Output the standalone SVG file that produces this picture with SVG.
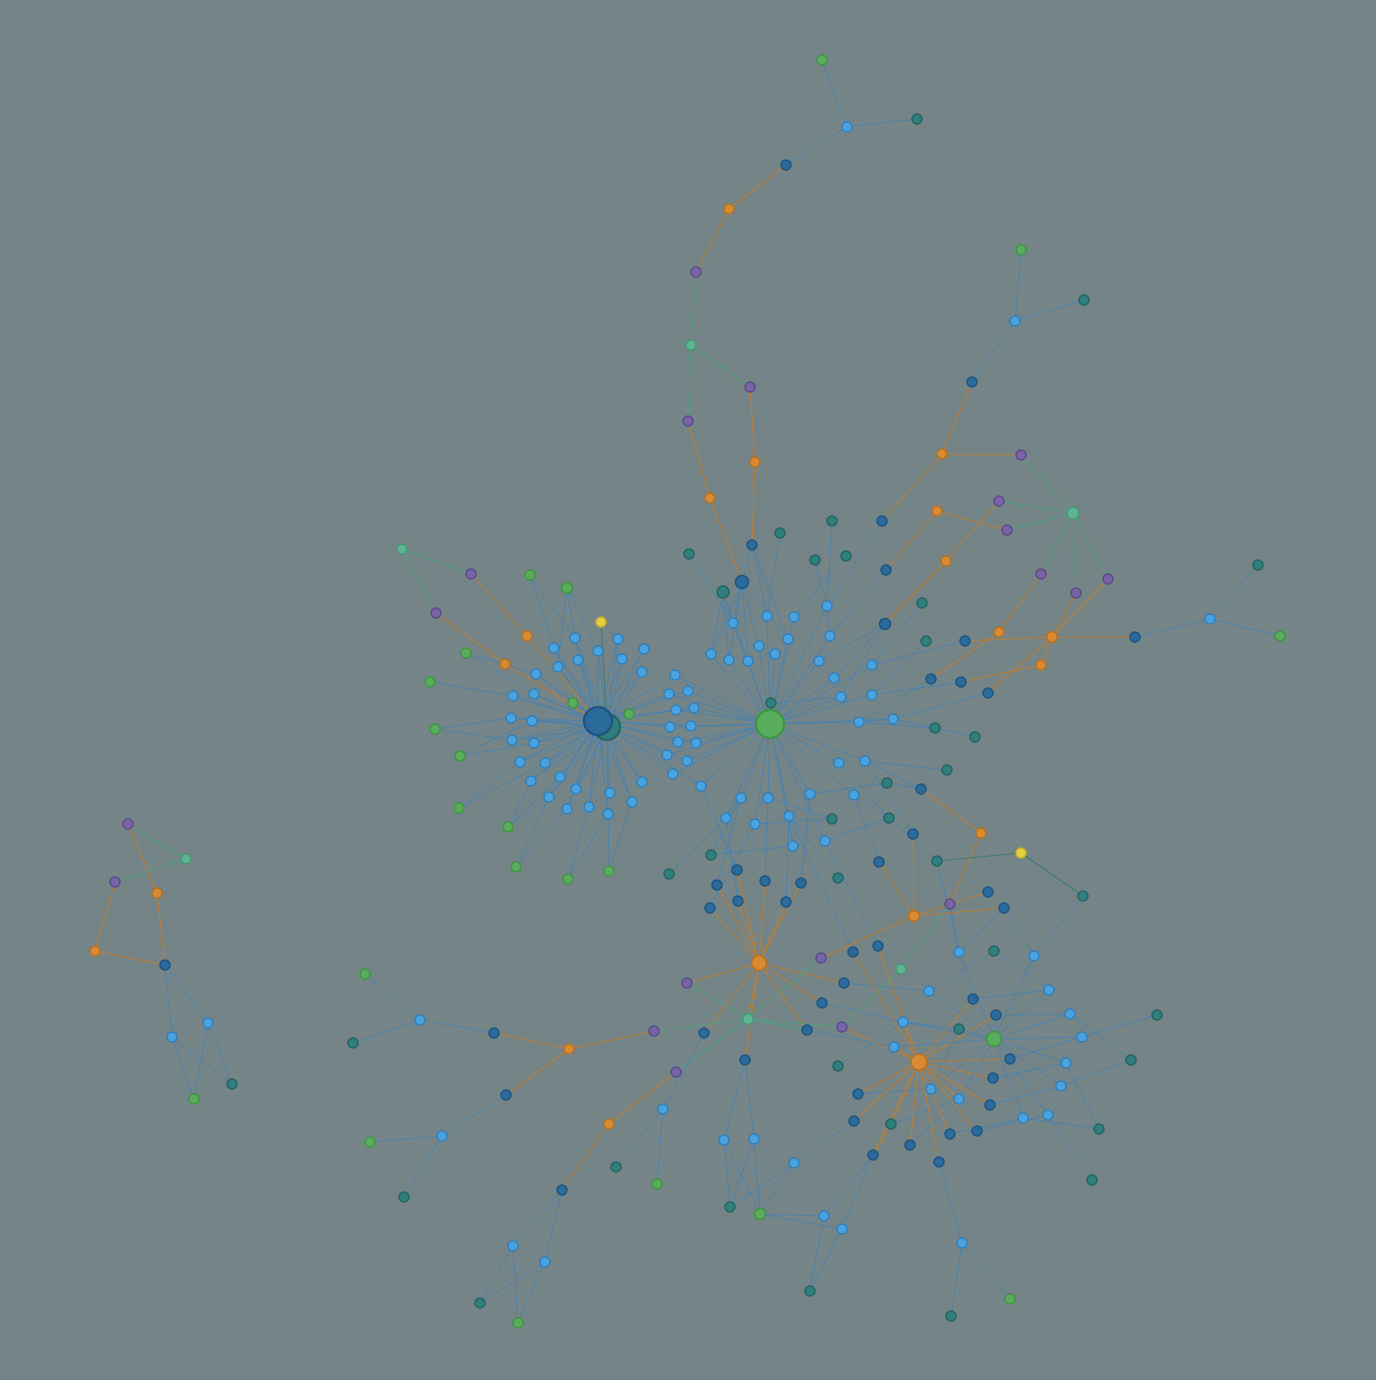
<svg xmlns="http://www.w3.org/2000/svg" width="1376" height="1380" viewBox="0 0 1376 1380">
<style>
.b{stroke:#3d80bb;stroke-width:1;opacity:.7}
.o{stroke:#c07d30;stroke-width:1.1;opacity:.9}
.g{stroke:#4ea37f;stroke-width:1.1;opacity:.9}
.t{stroke:#3a7a6c;stroke-width:1.1;opacity:.9}
.lb{fill:#4aa3df;stroke:#2f80bd;stroke-width:1.5}
.db{fill:#2a6b9c;stroke:#1d5480;stroke-width:1.5}
.tl{fill:#2f7f7e;stroke:#236361;stroke-width:1.5}
.gr{fill:#5aad5c;stroke:#3e9640;stroke-width:1.5}
.or{fill:#d98b33;stroke:#b7701f;stroke-width:1.5}
.pu{fill:#7863a6;stroke:#5a4a8a;stroke-width:1.5}
.mi{fill:#5fb592;stroke:#449a78;stroke-width:1.5}
.ye{fill:#e6cf3c;stroke:#c8b02a;stroke-width:1.5}
.hub{stroke-width:2.2}
</style>
<rect width="1376" height="1380" fill="#758587"/>
<g id="connectors">
<line class="b" x1="598" y1="721" x2="575" y2="638"/><line class="b" x1="598" y1="721" x2="618" y2="639"/><line class="b" x1="598" y1="721" x2="554" y2="648"/><line class="b" x1="598" y1="721" x2="644" y2="649"/><line class="b" x1="598" y1="721" x2="598" y2="651"/><line class="b" x1="598" y1="721" x2="578" y2="660"/><line class="b" x1="598" y1="721" x2="622" y2="659"/><line class="b" x1="598" y1="721" x2="558" y2="667"/><line class="b" x1="598" y1="721" x2="642" y2="672"/><line class="b" x1="598" y1="721" x2="536" y2="674"/><line class="b" x1="598" y1="721" x2="513" y2="696"/><line class="b" x1="598" y1="721" x2="534" y2="694"/><line class="b" x1="598" y1="721" x2="511" y2="718"/><line class="b" x1="598" y1="721" x2="532" y2="721"/><line class="b" x1="598" y1="721" x2="512" y2="740"/><line class="b" x1="598" y1="721" x2="534" y2="743"/><line class="b" x1="598" y1="721" x2="520" y2="762"/><line class="b" x1="598" y1="721" x2="545" y2="763"/><line class="b" x1="598" y1="721" x2="531" y2="781"/><line class="b" x1="598" y1="721" x2="560" y2="777"/><line class="b" x1="598" y1="721" x2="549" y2="797"/><line class="b" x1="598" y1="721" x2="576" y2="789"/><line class="b" x1="598" y1="721" x2="567" y2="809"/><line class="b" x1="598" y1="721" x2="589" y2="807"/><line class="b" x1="598" y1="721" x2="610" y2="793"/><line class="b" x1="598" y1="721" x2="608" y2="814"/><line class="b" x1="598" y1="721" x2="632" y2="802"/><line class="b" x1="598" y1="721" x2="642" y2="782"/><line class="b" x1="598" y1="721" x2="573" y2="703"/><line class="b" x1="598" y1="721" x2="629" y2="714"/>
<line class="b" x1="607" y1="727" x2="575" y2="638"/><line class="b" x1="607" y1="727" x2="618" y2="639"/><line class="b" x1="607" y1="727" x2="554" y2="648"/><line class="b" x1="607" y1="727" x2="644" y2="649"/><line class="b" x1="607" y1="727" x2="598" y2="651"/><line class="b" x1="607" y1="727" x2="578" y2="660"/><line class="b" x1="607" y1="727" x2="622" y2="659"/><line class="b" x1="607" y1="727" x2="558" y2="667"/><line class="b" x1="607" y1="727" x2="642" y2="672"/><line class="b" x1="607" y1="727" x2="536" y2="674"/><line class="b" x1="607" y1="727" x2="513" y2="696"/><line class="b" x1="607" y1="727" x2="534" y2="694"/><line class="b" x1="607" y1="727" x2="511" y2="718"/><line class="b" x1="607" y1="727" x2="532" y2="721"/><line class="b" x1="607" y1="727" x2="512" y2="740"/><line class="b" x1="607" y1="727" x2="534" y2="743"/><line class="b" x1="607" y1="727" x2="520" y2="762"/><line class="b" x1="607" y1="727" x2="545" y2="763"/><line class="b" x1="607" y1="727" x2="531" y2="781"/><line class="b" x1="607" y1="727" x2="560" y2="777"/><line class="b" x1="607" y1="727" x2="549" y2="797"/><line class="b" x1="607" y1="727" x2="576" y2="789"/><line class="b" x1="607" y1="727" x2="567" y2="809"/><line class="b" x1="607" y1="727" x2="589" y2="807"/><line class="b" x1="607" y1="727" x2="610" y2="793"/><line class="b" x1="607" y1="727" x2="608" y2="814"/><line class="b" x1="607" y1="727" x2="632" y2="802"/><line class="b" x1="607" y1="727" x2="642" y2="782"/>
<line class="b" x1="598" y1="721" x2="675" y2="675"/><line class="b" x1="598" y1="721" x2="669" y2="694"/><line class="b" x1="598" y1="721" x2="688" y2="691"/><line class="b" x1="598" y1="721" x2="676" y2="710"/><line class="b" x1="598" y1="721" x2="694" y2="708"/><line class="b" x1="598" y1="721" x2="670" y2="727"/><line class="b" x1="598" y1="721" x2="691" y2="726"/><line class="b" x1="598" y1="721" x2="678" y2="742"/><line class="b" x1="598" y1="721" x2="696" y2="743"/><line class="b" x1="598" y1="721" x2="667" y2="755"/><line class="b" x1="598" y1="721" x2="687" y2="761"/><line class="b" x1="598" y1="721" x2="673" y2="774"/><line class="b" x1="598" y1="721" x2="701" y2="786"/>
<line class="b" x1="770" y1="724" x2="675" y2="675"/><line class="b" x1="770" y1="724" x2="669" y2="694"/><line class="b" x1="770" y1="724" x2="688" y2="691"/><line class="b" x1="770" y1="724" x2="676" y2="710"/><line class="b" x1="770" y1="724" x2="694" y2="708"/><line class="b" x1="770" y1="724" x2="670" y2="727"/><line class="b" x1="770" y1="724" x2="691" y2="726"/><line class="b" x1="770" y1="724" x2="678" y2="742"/><line class="b" x1="770" y1="724" x2="696" y2="743"/><line class="b" x1="770" y1="724" x2="667" y2="755"/><line class="b" x1="770" y1="724" x2="687" y2="761"/><line class="b" x1="770" y1="724" x2="673" y2="774"/><line class="b" x1="770" y1="724" x2="701" y2="786"/>
<line class="o" x1="598" y1="721" x2="527" y2="636"/><line class="o" x1="598" y1="721" x2="505" y2="664"/>
<line class="t" x1="607" y1="727" x2="601" y2="622"/>
<line class="b" x1="530" y1="575" x2="554" y2="648"/><line class="b" x1="530" y1="575" x2="575" y2="638"/>
<line class="b" x1="567" y1="588" x2="575" y2="638"/><line class="b" x1="567" y1="588" x2="558" y2="667"/><line class="b" x1="567" y1="588" x2="598" y2="651"/><line class="b" x1="567" y1="588" x2="601" y2="622"/>
<line class="b" x1="601" y1="622" x2="618" y2="639"/>
<line class="g" x1="402" y1="549" x2="471" y2="574"/><line class="g" x1="402" y1="549" x2="436" y2="613"/>
<line class="o" x1="471" y1="574" x2="527" y2="636"/><line class="o" x1="436" y1="613" x2="505" y2="664"/>
<line class="b" x1="466" y1="653" x2="536" y2="674"/><line class="b" x1="466" y1="653" x2="534" y2="694"/>
<line class="b" x1="430" y1="682" x2="513" y2="696"/>
<line class="b" x1="435" y1="729" x2="511" y2="718"/><line class="b" x1="435" y1="729" x2="512" y2="740"/>
<line class="b" x1="460" y1="756" x2="532" y2="721"/><line class="b" x1="460" y1="756" x2="534" y2="743"/>
<line class="b" x1="459" y1="808" x2="520" y2="762"/><line class="b" x1="459" y1="808" x2="545" y2="763"/>
<line class="b" x1="508" y1="827" x2="531" y2="781"/><line class="b" x1="508" y1="827" x2="560" y2="777"/><line class="b" x1="508" y1="827" x2="549" y2="797"/>
<line class="b" x1="516" y1="867" x2="549" y2="797"/><line class="b" x1="516" y1="867" x2="567" y2="809"/>
<line class="b" x1="568" y1="879" x2="589" y2="807"/><line class="b" x1="568" y1="879" x2="608" y2="814"/>
<line class="b" x1="609" y1="871" x2="608" y2="814"/><line class="b" x1="609" y1="871" x2="632" y2="802"/>
<line class="b" x1="770" y1="724" x2="771" y2="703"/><line class="b" x1="770" y1="724" x2="827" y2="606"/><line class="b" x1="770" y1="724" x2="733" y2="623"/><line class="b" x1="770" y1="724" x2="767" y2="616"/><line class="b" x1="770" y1="724" x2="794" y2="617"/><line class="b" x1="770" y1="724" x2="788" y2="639"/><line class="b" x1="770" y1="724" x2="830" y2="636"/><line class="b" x1="770" y1="724" x2="759" y2="646"/><line class="b" x1="770" y1="724" x2="711" y2="654"/><line class="b" x1="770" y1="724" x2="729" y2="660"/><line class="b" x1="770" y1="724" x2="748" y2="661"/><line class="b" x1="770" y1="724" x2="775" y2="654"/><line class="b" x1="770" y1="724" x2="819" y2="661"/><line class="b" x1="770" y1="724" x2="872" y2="665"/><line class="b" x1="770" y1="724" x2="834" y2="678"/><line class="b" x1="770" y1="724" x2="841" y2="697"/><line class="b" x1="770" y1="724" x2="872" y2="695"/><line class="b" x1="770" y1="724" x2="859" y2="722"/><line class="b" x1="770" y1="724" x2="893" y2="719"/><line class="b" x1="770" y1="724" x2="839" y2="763"/><line class="b" x1="770" y1="724" x2="865" y2="761"/><line class="b" x1="770" y1="724" x2="741" y2="798"/><line class="b" x1="770" y1="724" x2="768" y2="798"/><line class="b" x1="770" y1="724" x2="810" y2="794"/><line class="b" x1="770" y1="724" x2="854" y2="795"/><line class="b" x1="770" y1="724" x2="726" y2="818"/><line class="b" x1="770" y1="724" x2="755" y2="824"/><line class="b" x1="770" y1="724" x2="789" y2="816"/><line class="b" x1="770" y1="724" x2="793" y2="846"/><line class="b" x1="770" y1="724" x2="825" y2="841"/>
<line class="b" x1="771" y1="703" x2="841" y2="697"/>
<line class="o" x1="752" y1="545" x2="755" y2="462"/><line class="b" x1="752" y1="545" x2="742" y2="582"/><line class="b" x1="752" y1="545" x2="767" y2="616"/><line class="b" x1="752" y1="545" x2="788" y2="639"/>
<line class="b" x1="780" y1="533" x2="767" y2="616"/><line class="b" x1="689" y1="554" x2="733" y2="623"/>
<line class="o" x1="742" y1="582" x2="710" y2="498"/><line class="b" x1="742" y1="582" x2="733" y2="623"/><line class="b" x1="742" y1="582" x2="711" y2="654"/><line class="b" x1="742" y1="582" x2="729" y2="660"/><line class="b" x1="742" y1="582" x2="748" y2="661"/><line class="b" x1="742" y1="582" x2="759" y2="646"/><line class="b" x1="742" y1="582" x2="788" y2="639"/>
<line class="b" x1="723" y1="592" x2="711" y2="654"/><line class="b" x1="723" y1="592" x2="729" y2="660"/><line class="b" x1="723" y1="592" x2="748" y2="661"/><line class="b" x1="723" y1="592" x2="733" y2="623"/>
<line class="b" x1="832" y1="521" x2="827" y2="606"/><line class="b" x1="815" y1="560" x2="827" y2="606"/><line class="b" x1="846" y1="556" x2="794" y2="617"/><line class="b" x1="827" y1="606" x2="830" y2="636"/>
<line class="o" x1="882" y1="521" x2="942" y2="454"/><line class="b" x1="882" y1="521" x2="827" y2="606"/>
<line class="o" x1="937" y1="511" x2="886" y2="570"/><line class="o" x1="937" y1="511" x2="1007" y2="530"/>
<line class="o" x1="946" y1="561" x2="885" y2="624"/><line class="o" x1="946" y1="561" x2="999" y2="501"/>
<line class="b" x1="886" y1="570" x2="830" y2="636"/>
<line class="b" x1="885" y1="624" x2="819" y2="661"/><line class="b" x1="885" y1="624" x2="834" y2="678"/><line class="b" x1="885" y1="624" x2="841" y2="697"/>
<line class="b" x1="922" y1="603" x2="872" y2="665"/><line class="b" x1="926" y1="641" x2="872" y2="695"/>
<line class="b" x1="965" y1="641" x2="872" y2="665"/><line class="o" x1="965" y1="641" x2="1052" y2="637"/>
<line class="o" x1="999" y1="632" x2="931" y2="679"/><line class="o" x1="999" y1="632" x2="1041" y2="574"/>
<line class="b" x1="931" y1="679" x2="859" y2="722"/>
<line class="o" x1="961" y1="682" x2="1041" y2="665"/><line class="b" x1="961" y1="682" x2="872" y2="695"/>
<line class="o" x1="988" y1="693" x2="1052" y2="637"/><line class="b" x1="988" y1="693" x2="893" y2="719"/>
<line class="b" x1="859" y1="722" x2="935" y2="728"/><line class="b" x1="859" y1="722" x2="893" y2="719"/><line class="b" x1="893" y1="719" x2="935" y2="728"/><line class="b" x1="935" y1="728" x2="975" y2="737"/>
<line class="b" x1="839" y1="763" x2="889" y2="818"/><line class="b" x1="865" y1="761" x2="947" y2="770"/><line class="b" x1="865" y1="761" x2="913" y2="834"/><line class="b" x1="865" y1="761" x2="921" y2="789"/>
<line class="b" x1="921" y1="789" x2="887" y2="783"/><line class="o" x1="921" y1="789" x2="981" y2="833"/>
<line class="o" x1="981" y1="833" x2="950" y2="904"/><line class="o" x1="913" y1="834" x2="914" y2="916"/><line class="o" x1="879" y1="862" x2="914" y2="916"/>
<line class="b" x1="854" y1="795" x2="889" y2="818"/><line class="b" x1="854" y1="795" x2="879" y2="862"/>
<line class="b" x1="889" y1="818" x2="937" y2="861"/><line class="b" x1="937" y1="861" x2="959" y2="952"/>
<line class="t" x1="937" y1="861" x2="1021" y2="853"/><line class="t" x1="1021" y1="853" x2="1083" y2="896"/>
<line class="b" x1="1083" y1="896" x2="1034" y2="956"/>
<line class="b" x1="741" y1="798" x2="726" y2="818"/><line class="b" x1="741" y1="798" x2="717" y2="885"/><line class="b" x1="711" y1="855" x2="741" y2="798"/>
<line class="b" x1="726" y1="818" x2="669" y2="874"/><line class="b" x1="726" y1="818" x2="738" y2="901"/>
<line class="b" x1="768" y1="798" x2="765" y2="881"/><line class="b" x1="768" y1="798" x2="832" y2="819"/>
<line class="b" x1="755" y1="824" x2="832" y2="819"/><line class="b" x1="755" y1="824" x2="710" y2="908"/>
<line class="b" x1="789" y1="816" x2="786" y2="902"/><line class="b" x1="789" y1="816" x2="793" y2="846"/><line class="b" x1="789" y1="816" x2="853" y2="952"/>
<line class="b" x1="793" y1="846" x2="711" y2="855"/>
<line class="b" x1="810" y1="794" x2="801" y2="883"/><line class="b" x1="810" y1="794" x2="887" y2="783"/>
<line class="b" x1="825" y1="841" x2="889" y2="818"/><line class="b" x1="825" y1="841" x2="878" y2="946"/>
<line class="b" x1="701" y1="786" x2="737" y2="870"/><line class="b" x1="838" y1="878" x2="789" y2="816"/>
<line class="o" x1="759" y1="963" x2="737" y2="870"/><line class="o" x1="759" y1="963" x2="717" y2="885"/><line class="o" x1="759" y1="963" x2="765" y2="881"/><line class="o" x1="759" y1="963" x2="801" y2="883"/><line class="o" x1="759" y1="963" x2="738" y2="901"/><line class="o" x1="759" y1="963" x2="710" y2="908"/><line class="o" x1="759" y1="963" x2="786" y2="902"/><line class="o" x1="759" y1="963" x2="687" y2="983"/><line class="o" x1="759" y1="963" x2="748" y2="1019"/><line class="o" x1="759" y1="963" x2="704" y2="1033"/><line class="o" x1="759" y1="963" x2="745" y2="1060"/><line class="o" x1="759" y1="963" x2="844" y2="983"/><line class="o" x1="759" y1="963" x2="822" y2="1003"/><line class="o" x1="759" y1="963" x2="807" y2="1030"/>
<line class="b" x1="822" y1="60" x2="847" y2="127"/><line class="b" x1="847" y1="127" x2="917" y2="119"/><line class="b" x1="847" y1="127" x2="786" y2="165"/>
<line class="o" x1="786" y1="165" x2="729" y2="209"/><line class="o" x1="729" y1="209" x2="696" y2="272"/>
<line class="g" x1="696" y1="272" x2="691" y2="345"/><line class="g" x1="691" y1="345" x2="750" y2="387"/><line class="g" x1="691" y1="345" x2="688" y2="421"/>
<line class="o" x1="750" y1="387" x2="755" y2="462"/><line class="o" x1="688" y1="421" x2="710" y2="498"/>
<line class="b" x1="1021" y1="250" x2="1015" y2="321"/><line class="b" x1="1084" y1="300" x2="1015" y2="321"/><line class="b" x1="1015" y1="321" x2="972" y2="382"/>
<line class="o" x1="972" y1="382" x2="942" y2="454"/><line class="o" x1="942" y1="454" x2="1021" y2="455"/>
<line class="g" x1="1021" y1="455" x2="1073" y2="513"/><line class="g" x1="999" y1="501" x2="1073" y2="513"/><line class="g" x1="1007" y1="530" x2="1073" y2="513"/><line class="g" x1="1073" y1="513" x2="1041" y2="574"/><line class="g" x1="1073" y1="513" x2="1076" y2="593"/><line class="g" x1="1073" y1="513" x2="1108" y2="579"/>
<line class="o" x1="1076" y1="593" x2="1052" y2="637"/><line class="o" x1="1108" y1="579" x2="1052" y2="637"/><line class="o" x1="1052" y1="637" x2="1041" y2="665"/><line class="o" x1="1052" y1="637" x2="1135" y2="637"/>
<line class="b" x1="1135" y1="637" x2="1210" y2="619"/><line class="b" x1="1210" y1="619" x2="1258" y2="565"/><line class="b" x1="1210" y1="619" x2="1280" y2="636"/>
<line class="o" x1="988" y1="892" x2="950" y2="904"/><line class="o" x1="1004" y1="908" x2="914" y2="916"/><line class="o" x1="950" y1="904" x2="914" y2="916"/><line class="o" x1="914" y1="916" x2="821" y2="958"/>
<line class="b" x1="1004" y1="908" x2="959" y2="952"/><line class="b" x1="1004" y1="908" x2="1034" y2="956"/><line class="b" x1="950" y1="904" x2="959" y2="952"/><line class="g" x1="950" y1="904" x2="901" y2="969"/>
<line class="o" x1="853" y1="952" x2="919" y2="1062"/><line class="o" x1="878" y1="946" x2="919" y2="1062"/>
<line class="b" x1="959" y1="952" x2="994" y2="1039"/><line class="b" x1="994" y1="951" x2="929" y2="991"/><line class="b" x1="994" y1="951" x2="1049" y2="990"/><line class="b" x1="1034" y1="956" x2="994" y2="1039"/>
<line class="b" x1="844" y1="983" x2="929" y2="991"/><line class="b" x1="929" y1="991" x2="994" y2="1039"/><line class="b" x1="973" y1="999" x2="1049" y2="990"/><line class="o" x1="973" y1="999" x2="919" y2="1062"/><line class="b" x1="1049" y1="990" x2="994" y2="1039"/>
<line class="b" x1="822" y1="1003" x2="903" y2="1022"/><line class="b" x1="996" y1="1015" x2="1070" y2="1014"/><line class="b" x1="996" y1="1015" x2="994" y2="1039"/><line class="o" x1="996" y1="1015" x2="919" y2="1062"/>
<line class="b" x1="1070" y1="1014" x2="994" y2="1039"/><line class="b" x1="1070" y1="1014" x2="1131" y2="1060"/><line class="b" x1="1157" y1="1015" x2="1082" y2="1037"/>
<line class="b" x1="903" y1="1022" x2="994" y2="1039"/><line class="b" x1="903" y1="1022" x2="959" y2="1029"/><line class="o" x1="903" y1="1022" x2="919" y2="1062"/><line class="o" x1="842" y1="1027" x2="919" y2="1062"/>
<line class="b" x1="807" y1="1030" x2="894" y2="1047"/><line class="b" x1="959" y1="1029" x2="994" y2="1039"/><line class="b" x1="959" y1="1029" x2="931" y2="1089"/>
<line class="b" x1="1082" y1="1037" x2="994" y2="1039"/><line class="b" x1="1082" y1="1037" x2="1010" y2="1059"/>
<line class="b" x1="894" y1="1047" x2="994" y2="1039"/><line class="o" x1="894" y1="1047" x2="919" y2="1062"/><line class="b" x1="838" y1="1066" x2="903" y2="1022"/>
<line class="o" x1="1010" y1="1059" x2="919" y2="1062"/><line class="b" x1="1066" y1="1063" x2="994" y2="1039"/><line class="b" x1="1066" y1="1063" x2="1099" y2="1129"/>
<line class="o" x1="993" y1="1078" x2="919" y2="1062"/><line class="b" x1="993" y1="1078" x2="1066" y2="1063"/>
<line class="b" x1="1061" y1="1086" x2="994" y2="1039"/><line class="b" x1="1061" y1="1086" x2="1131" y2="1060"/><line class="b" x1="990" y1="1105" x2="1061" y2="1086"/>
<line class="o" x1="858" y1="1094" x2="919" y2="1062"/><line class="b" x1="858" y1="1094" x2="931" y2="1089"/>
<line class="b" x1="931" y1="1089" x2="994" y2="1039"/><line class="b" x1="959" y1="1099" x2="994" y2="1039"/><line class="b" x1="959" y1="1099" x2="891" y2="1124"/><line class="b" x1="959" y1="1099" x2="910" y2="1145"/><line class="o" x1="959" y1="1099" x2="919" y2="1062"/>
<line class="o" x1="990" y1="1105" x2="919" y2="1062"/><line class="o" x1="854" y1="1121" x2="919" y2="1062"/><line class="o" x1="891" y1="1124" x2="919" y2="1062"/><line class="o" x1="891" y1="1124" x2="873" y2="1155"/>
<line class="b" x1="1023" y1="1118" x2="994" y2="1039"/><line class="b" x1="1023" y1="1118" x2="1099" y2="1129"/><line class="b" x1="1023" y1="1118" x2="950" y2="1134"/>
<line class="b" x1="1048" y1="1115" x2="994" y2="1039"/><line class="b" x1="1048" y1="1115" x2="1092" y2="1180"/><line class="b" x1="1048" y1="1115" x2="977" y2="1131"/>
<line class="o" x1="950" y1="1134" x2="919" y2="1062"/><line class="o" x1="977" y1="1131" x2="919" y2="1062"/><line class="o" x1="910" y1="1145" x2="919" y2="1062"/><line class="o" x1="873" y1="1155" x2="919" y2="1062"/><line class="o" x1="939" y1="1162" x2="919" y2="1062"/>
<line class="b" x1="939" y1="1162" x2="962" y2="1243"/><line class="b" x1="962" y1="1243" x2="1010" y2="1299"/><line class="b" x1="962" y1="1243" x2="951" y2="1316"/>
<line class="g" x1="901" y1="969" x2="842" y2="1027"/>
<line class="b" x1="854" y1="1121" x2="794" y2="1163"/><line class="b" x1="873" y1="1155" x2="824" y2="1216"/><line class="b" x1="873" y1="1155" x2="842" y2="1229"/>
<line class="g" x1="687" y1="983" x2="748" y2="1019"/><line class="g" x1="748" y1="1019" x2="654" y2="1031"/><line class="g" x1="748" y1="1019" x2="821" y2="958"/><line class="g" x1="748" y1="1019" x2="807" y2="1030"/><line class="g" x1="748" y1="1019" x2="676" y2="1072"/><line class="g" x1="748" y1="1019" x2="842" y2="1027"/>
<line class="b" x1="704" y1="1033" x2="663" y2="1109"/><line class="o" x1="676" y1="1072" x2="609" y2="1124"/><line class="o" x1="609" y1="1124" x2="562" y2="1190"/>
<line class="b" x1="663" y1="1109" x2="616" y2="1167"/><line class="b" x1="663" y1="1109" x2="657" y2="1184"/>
<line class="b" x1="562" y1="1190" x2="513" y2="1246"/><line class="b" x1="562" y1="1190" x2="545" y2="1262"/><line class="b" x1="513" y1="1246" x2="480" y2="1303"/><line class="b" x1="513" y1="1246" x2="518" y2="1323"/><line class="b" x1="545" y1="1262" x2="480" y2="1303"/><line class="b" x1="545" y1="1262" x2="518" y2="1323"/>
<line class="o" x1="654" y1="1031" x2="569" y2="1049"/><line class="o" x1="569" y1="1049" x2="494" y2="1033"/><line class="o" x1="569" y1="1049" x2="506" y2="1095"/>
<line class="b" x1="494" y1="1033" x2="420" y2="1020"/><line class="b" x1="420" y1="1020" x2="365" y2="974"/><line class="b" x1="420" y1="1020" x2="353" y2="1043"/>
<line class="b" x1="506" y1="1095" x2="442" y2="1136"/><line class="b" x1="442" y1="1136" x2="370" y2="1142"/><line class="b" x1="442" y1="1136" x2="404" y2="1197"/>
<line class="b" x1="745" y1="1060" x2="724" y2="1140"/><line class="b" x1="745" y1="1060" x2="754" y2="1139"/>
<line class="b" x1="724" y1="1140" x2="730" y2="1207"/><line class="b" x1="724" y1="1140" x2="760" y2="1214"/><line class="b" x1="754" y1="1139" x2="730" y2="1207"/><line class="b" x1="754" y1="1139" x2="760" y2="1214"/><line class="b" x1="794" y1="1163" x2="730" y2="1207"/><line class="b" x1="794" y1="1163" x2="760" y2="1214"/>
<line class="b" x1="760" y1="1214" x2="824" y2="1216"/><line class="b" x1="760" y1="1214" x2="842" y2="1229"/><line class="b" x1="824" y1="1216" x2="810" y2="1291"/><line class="b" x1="842" y1="1229" x2="810" y2="1291"/>
<line class="g" x1="128" y1="824" x2="186" y2="859"/><line class="o" x1="128" y1="824" x2="157" y2="893"/><line class="g" x1="186" y1="859" x2="115" y2="882"/><line class="o" x1="115" y1="882" x2="95" y2="951"/><line class="o" x1="95" y1="951" x2="165" y2="965"/><line class="o" x1="157" y1="893" x2="165" y2="965"/>
<line class="b" x1="165" y1="965" x2="208" y2="1023"/><line class="b" x1="165" y1="965" x2="172" y2="1037"/><line class="b" x1="172" y1="1037" x2="194" y2="1099"/><line class="b" x1="172" y1="1037" x2="232" y2="1084"/><line class="b" x1="208" y1="1023" x2="194" y2="1099"/><line class="b" x1="208" y1="1023" x2="232" y2="1084"/>
</g>
<g id="nodes">
<g id="T1"><circle class="tl hub" cx="607" cy="727" r="13"/></g>
<g id="H1"><circle class="db hub" cx="598" cy="721" r="14"/></g>
<g id="a1"><circle class="gr" cx="530" cy="575" r="5"/></g>
<g id="a2"><circle class="gr" cx="567" cy="588" r="5.5"/></g>
<g id="a3"><circle class="ye" cx="601" cy="622" r="5"/></g>
<g id="a4"><circle class="or" cx="527" cy="636" r="5"/></g>
<g id="a5"><circle class="or" cx="505" cy="664" r="5"/></g>
<g id="a6"><circle class="lb" cx="575" cy="638" r="5"/></g>
<g id="a7"><circle class="lb" cx="618" cy="639" r="5"/></g>
<g id="a8"><circle class="lb" cx="554" cy="648" r="5"/></g>
<g id="a9"><circle class="lb" cx="644" cy="649" r="5"/></g>
<g id="a10"><circle class="lb" cx="598" cy="651" r="5"/></g>
<g id="a11"><circle class="lb" cx="578" cy="660" r="5"/></g>
<g id="a12"><circle class="lb" cx="622" cy="659" r="5"/></g>
<g id="a13"><circle class="lb" cx="558" cy="667" r="5"/></g>
<g id="a14"><circle class="lb" cx="642" cy="672" r="5"/></g>
<g id="a15"><circle class="lb" cx="536" cy="674" r="5"/></g>
<g id="a16"><circle class="lb" cx="513" cy="696" r="5"/></g>
<g id="a17"><circle class="lb" cx="534" cy="694" r="5"/></g>
<g id="a18"><circle class="gr" cx="573" cy="703" r="5"/></g>
<g id="a19"><circle class="gr" cx="629" cy="714" r="5"/></g>
<g id="a20"><circle class="lb" cx="511" cy="718" r="5"/></g>
<g id="a21"><circle class="lb" cx="532" cy="721" r="5"/></g>
<g id="a22"><circle class="lb" cx="512" cy="740" r="5"/></g>
<g id="a23"><circle class="lb" cx="534" cy="743" r="5"/></g>
<g id="a24"><circle class="lb" cx="520" cy="762" r="5"/></g>
<g id="a25"><circle class="lb" cx="545" cy="763" r="5"/></g>
<g id="a26"><circle class="lb" cx="531" cy="781" r="5"/></g>
<g id="a27"><circle class="lb" cx="560" cy="777" r="5"/></g>
<g id="a28"><circle class="lb" cx="549" cy="797" r="5"/></g>
<g id="a29"><circle class="lb" cx="576" cy="789" r="5"/></g>
<g id="a30"><circle class="lb" cx="567" cy="809" r="5"/></g>
<g id="a31"><circle class="lb" cx="589" cy="807" r="5"/></g>
<g id="a32"><circle class="lb" cx="610" cy="793" r="5"/></g>
<g id="a33"><circle class="lb" cx="608" cy="814" r="5"/></g>
<g id="a34"><circle class="lb" cx="632" cy="802" r="5"/></g>
<g id="a35"><circle class="lb" cx="642" cy="782" r="5"/></g>
<g id="a36"><circle class="gr" cx="508" cy="827" r="5"/></g>
<g id="a37"><circle class="gr" cx="516" cy="867" r="5"/></g>
<g id="a38"><circle class="gr" cx="568" cy="879" r="5"/></g>
<g id="a39"><circle class="gr" cx="609" cy="871" r="5"/></g>
<g id="a40"><circle class="mi" cx="402" cy="549" r="5"/></g>
<g id="a41"><circle class="pu" cx="471" cy="574" r="5"/></g>
<g id="a42"><circle class="pu" cx="436" cy="613" r="5"/></g>
<g id="a43"><circle class="gr" cx="466" cy="653" r="5"/></g>
<g id="a44"><circle class="gr" cx="430" cy="682" r="5"/></g>
<g id="a45"><circle class="gr" cx="435" cy="729" r="5"/></g>
<g id="a46"><circle class="gr" cx="460" cy="756" r="5"/></g>
<g id="a47"><circle class="gr" cx="459" cy="808" r="5"/></g>
<g id="m1"><circle class="lb" cx="675" cy="675" r="5"/></g>
<g id="m2"><circle class="lb" cx="669" cy="694" r="5"/></g>
<g id="m3"><circle class="lb" cx="688" cy="691" r="5"/></g>
<g id="m4"><circle class="lb" cx="676" cy="710" r="5"/></g>
<g id="m5"><circle class="lb" cx="694" cy="708" r="5"/></g>
<g id="m6"><circle class="lb" cx="670" cy="727" r="5"/></g>
<g id="m7"><circle class="lb" cx="691" cy="726" r="5"/></g>
<g id="m8"><circle class="lb" cx="678" cy="742" r="5"/></g>
<g id="m9"><circle class="lb" cx="696" cy="743" r="5"/></g>
<g id="m10"><circle class="lb" cx="667" cy="755" r="5"/></g>
<g id="m11"><circle class="lb" cx="687" cy="761" r="5"/></g>
<g id="m12"><circle class="lb" cx="673" cy="774" r="5"/></g>
<g id="m13"><circle class="lb" cx="701" cy="786" r="5"/></g>
<g id="G1"><circle class="gr hub" cx="770" cy="724" r="14"/></g>
<g id="b0"><circle class="tl" cx="771" cy="703" r="5"/></g>
<g id="b1"><circle class="db" cx="752" cy="545" r="5"/></g>
<g id="b2"><circle class="tl" cx="780" cy="533" r="5"/></g>
<g id="b3"><circle class="tl" cx="689" cy="554" r="5"/></g>
<g id="b4"><circle class="db" cx="742" cy="582" r="6.5"/></g>
<g id="b5"><circle class="tl" cx="723" cy="592" r="6"/></g>
<g id="b6"><circle class="tl" cx="832" cy="521" r="5"/></g>
<g id="b7"><circle class="db" cx="882" cy="521" r="5"/></g>
<g id="b8"><circle class="or" cx="937" cy="511" r="5"/></g>
<g id="b9"><circle class="tl" cx="815" cy="560" r="5"/></g>
<g id="b10"><circle class="tl" cx="846" cy="556" r="5"/></g>
<g id="b11"><circle class="db" cx="886" cy="570" r="5"/></g>
<g id="b12"><circle class="or" cx="946" cy="561" r="5"/></g>
<g id="b13"><circle class="lb" cx="827" cy="606" r="5"/></g>
<g id="b14"><circle class="tl" cx="922" cy="603" r="5"/></g>
<g id="b15"><circle class="db" cx="885" cy="624" r="5.5"/></g>
<g id="b16"><circle class="lb" cx="733" cy="623" r="5"/></g>
<g id="b17"><circle class="lb" cx="767" cy="616" r="5"/></g>
<g id="b18"><circle class="lb" cx="794" cy="617" r="5"/></g>
<g id="b19"><circle class="lb" cx="788" cy="639" r="5"/></g>
<g id="b20"><circle class="lb" cx="830" cy="636" r="5"/></g>
<g id="b21"><circle class="lb" cx="759" cy="646" r="5"/></g>
<g id="b22"><circle class="lb" cx="711" cy="654" r="5"/></g>
<g id="b23"><circle class="lb" cx="729" cy="660" r="5"/></g>
<g id="b24"><circle class="lb" cx="748" cy="661" r="5"/></g>
<g id="b25"><circle class="lb" cx="775" cy="654" r="5"/></g>
<g id="b26"><circle class="tl" cx="926" cy="641" r="5"/></g>
<g id="b27"><circle class="db" cx="965" cy="641" r="5"/></g>
<g id="b28"><circle class="or" cx="999" cy="632" r="5"/></g>
<g id="b29"><circle class="lb" cx="819" cy="661" r="5"/></g>
<g id="b30"><circle class="lb" cx="872" cy="665" r="5"/></g>
<g id="b31"><circle class="lb" cx="834" cy="678" r="5"/></g>
<g id="b32"><circle class="db" cx="931" cy="679" r="5"/></g>
<g id="b33"><circle class="db" cx="961" cy="682" r="5"/></g>
<g id="b34"><circle class="db" cx="988" cy="693" r="5"/></g>
<g id="b35"><circle class="lb" cx="841" cy="697" r="5"/></g>
<g id="b36"><circle class="lb" cx="872" cy="695" r="5"/></g>
<g id="b37"><circle class="lb" cx="859" cy="722" r="5"/></g>
<g id="b38"><circle class="lb" cx="893" cy="719" r="5"/></g>
<g id="b39"><circle class="tl" cx="935" cy="728" r="5"/></g>
<g id="b40"><circle class="tl" cx="975" cy="737" r="5"/></g>
<g id="b41"><circle class="lb" cx="839" cy="763" r="5"/></g>
<g id="b42"><circle class="lb" cx="865" cy="761" r="5"/></g>
<g id="b43"><circle class="tl" cx="947" cy="770" r="5"/></g>
<g id="b44"><circle class="tl" cx="887" cy="783" r="5"/></g>
<g id="b45"><circle class="db" cx="921" cy="789" r="5"/></g>
<g id="b46"><circle class="lb" cx="741" cy="798" r="5"/></g>
<g id="b47"><circle class="lb" cx="768" cy="798" r="5"/></g>
<g id="b48"><circle class="lb" cx="810" cy="794" r="5"/></g>
<g id="b49"><circle class="lb" cx="854" cy="795" r="5"/></g>
<g id="b50"><circle class="lb" cx="726" cy="818" r="5"/></g>
<g id="b51"><circle class="lb" cx="755" cy="824" r="5"/></g>
<g id="b52"><circle class="lb" cx="789" cy="816" r="5"/></g>
<g id="b53"><circle class="tl" cx="832" cy="819" r="5"/></g>
<g id="b54"><circle class="tl" cx="889" cy="818" r="5"/></g>
<g id="b55"><circle class="or" cx="981" cy="833" r="5"/></g>
<g id="b56"><circle class="db" cx="913" cy="834" r="5"/></g>
<g id="b57"><circle class="lb" cx="793" cy="846" r="5"/></g>
<g id="b58"><circle class="lb" cx="825" cy="841" r="5"/></g>
<g id="b59"><circle class="tl" cx="937" cy="861" r="5"/></g>
<g id="b60"><circle class="db" cx="879" cy="862" r="5"/></g>
<g id="b61"><circle class="tl" cx="669" cy="874" r="5"/></g>
<g id="b62"><circle class="tl" cx="711" cy="855" r="5"/></g>
<g id="b63"><circle class="db" cx="737" cy="870" r="5"/></g>
<g id="b64"><circle class="db" cx="717" cy="885" r="5"/></g>
<g id="b65"><circle class="db" cx="765" cy="881" r="5"/></g>
<g id="b66"><circle class="db" cx="801" cy="883" r="5"/></g>
<g id="b67"><circle class="tl" cx="838" cy="878" r="5"/></g>
<g id="b68"><circle class="db" cx="738" cy="901" r="5"/></g>
<g id="b69"><circle class="db" cx="710" cy="908" r="5"/></g>
<g id="b70"><circle class="db" cx="786" cy="902" r="5"/></g>
<g id="b71"><circle class="ye" cx="1021" cy="853" r="5"/></g>
<g id="b72"><circle class="tl" cx="1083" cy="896" r="5"/></g>
<g id="t1"><circle class="gr" cx="822" cy="60" r="5"/></g>
<g id="t2"><circle class="lb" cx="847" cy="127" r="5"/></g>
<g id="t3"><circle class="tl" cx="917" cy="119" r="5"/></g>
<g id="t4"><circle class="db" cx="786" cy="165" r="5"/></g>
<g id="t5"><circle class="or" cx="729" cy="209" r="5"/></g>
<g id="t6"><circle class="pu" cx="696" cy="272" r="5"/></g>
<g id="t7"><circle class="mi" cx="691" cy="345" r="5"/></g>
<g id="t8"><circle class="pu" cx="750" cy="387" r="5"/></g>
<g id="t9"><circle class="pu" cx="688" cy="421" r="5"/></g>
<g id="t10"><circle class="or" cx="755" cy="462" r="5"/></g>
<g id="t11"><circle class="or" cx="710" cy="498" r="5"/></g>
<g id="t12"><circle class="gr" cx="1021" cy="250" r="5"/></g>
<g id="t13"><circle class="tl" cx="1084" cy="300" r="5"/></g>
<g id="t14"><circle class="lb" cx="1015" cy="321" r="5"/></g>
<g id="t15"><circle class="db" cx="972" cy="382" r="5"/></g>
<g id="t16"><circle class="or" cx="942" cy="454" r="5"/></g>
<g id="t17"><circle class="pu" cx="1021" cy="455" r="5"/></g>
<g id="t18"><circle class="mi" cx="1073" cy="513" r="6"/></g>
<g id="t19"><circle class="pu" cx="999" cy="501" r="5"/></g>
<g id="t20"><circle class="pu" cx="1007" cy="530" r="5"/></g>
<g id="t21"><circle class="pu" cx="1041" cy="574" r="5"/></g>
<g id="t22"><circle class="pu" cx="1076" cy="593" r="5"/></g>
<g id="t23"><circle class="pu" cx="1108" cy="579" r="5"/></g>
<g id="t24"><circle class="or" cx="1052" cy="637" r="5.5"/></g>
<g id="t25"><circle class="or" cx="1041" cy="665" r="5"/></g>
<g id="t26"><circle class="db" cx="1135" cy="637" r="5"/></g>
<g id="t27"><circle class="lb" cx="1210" cy="619" r="5"/></g>
<g id="t28"><circle class="tl" cx="1258" cy="565" r="5"/></g>
<g id="t29"><circle class="gr" cx="1280" cy="636" r="5"/></g>
<g id="O2"><circle class="or" cx="919" cy="1062" r="8"/></g>
<g id="G2"><circle class="gr" cx="994" cy="1039" r="7.5"/></g>
<g id="c1"><circle class="db" cx="988" cy="892" r="5"/></g>
<g id="c2"><circle class="pu" cx="950" cy="904" r="5"/></g>
<g id="c3"><circle class="db" cx="1004" cy="908" r="5"/></g>
<g id="c4"><circle class="or" cx="914" cy="916" r="5.5"/></g>
<g id="c5"><circle class="pu" cx="821" cy="958" r="5"/></g>
<g id="c6"><circle class="db" cx="853" cy="952" r="5"/></g>
<g id="c7"><circle class="db" cx="878" cy="946" r="5"/></g>
<g id="c8"><circle class="lb" cx="959" cy="952" r="5"/></g>
<g id="c9"><circle class="tl" cx="994" cy="951" r="5"/></g>
<g id="c10"><circle class="lb" cx="1034" cy="956" r="5"/></g>
<g id="c11"><circle class="mi" cx="901" cy="969" r="5"/></g>
<g id="c12"><circle class="db" cx="844" cy="983" r="5"/></g>
<g id="c13"><circle class="lb" cx="929" cy="991" r="5"/></g>
<g id="c14"><circle class="db" cx="973" cy="999" r="5"/></g>
<g id="c15"><circle class="lb" cx="1049" cy="990" r="5"/></g>
<g id="c16"><circle class="db" cx="822" cy="1003" r="5"/></g>
<g id="c17"><circle class="db" cx="996" cy="1015" r="5"/></g>
<g id="c18"><circle class="lb" cx="1070" cy="1014" r="5"/></g>
<g id="c19"><circle class="tl" cx="1157" cy="1015" r="5"/></g>
<g id="c20"><circle class="lb" cx="903" cy="1022" r="5"/></g>
<g id="c21"><circle class="pu" cx="842" cy="1027" r="5"/></g>
<g id="c22"><circle class="db" cx="807" cy="1030" r="5"/></g>
<g id="c23"><circle class="tl" cx="959" cy="1029" r="5"/></g>
<g id="c24"><circle class="lb" cx="1082" cy="1037" r="5"/></g>
<g id="c25"><circle class="lb" cx="894" cy="1047" r="5"/></g>
<g id="c26"><circle class="db" cx="1010" cy="1059" r="5"/></g>
<g id="c27"><circle class="tl" cx="1131" cy="1060" r="5"/></g>
<g id="c28"><circle class="lb" cx="1066" cy="1063" r="5"/></g>
<g id="c29"><circle class="tl" cx="838" cy="1066" r="5"/></g>
<g id="c30"><circle class="db" cx="993" cy="1078" r="5"/></g>
<g id="c31"><circle class="lb" cx="1061" cy="1086" r="5"/></g>
<g id="c32"><circle class="db" cx="858" cy="1094" r="5"/></g>
<g id="c33"><circle class="lb" cx="931" cy="1089" r="5"/></g>
<g id="c34"><circle class="lb" cx="959" cy="1099" r="5"/></g>
<g id="c35"><circle class="db" cx="990" cy="1105" r="5"/></g>
<g id="c36"><circle class="db" cx="854" cy="1121" r="5"/></g>
<g id="c37"><circle class="tl" cx="891" cy="1124" r="5"/></g>
<g id="c38"><circle class="lb" cx="1023" cy="1118" r="5"/></g>
<g id="c39"><circle class="lb" cx="1048" cy="1115" r="5"/></g>
<g id="c40"><circle class="db" cx="950" cy="1134" r="5"/></g>
<g id="c41"><circle class="db" cx="977" cy="1131" r="5"/></g>
<g id="c42"><circle class="tl" cx="1099" cy="1129" r="5"/></g>
<g id="c43"><circle class="db" cx="910" cy="1145" r="5"/></g>
<g id="c44"><circle class="db" cx="873" cy="1155" r="5"/></g>
<g id="c45"><circle class="db" cx="939" cy="1162" r="5"/></g>
<g id="c46"><circle class="tl" cx="1092" cy="1180" r="5"/></g>
<g id="c47"><circle class="lb" cx="962" cy="1243" r="5"/></g>
<g id="c48"><circle class="gr" cx="1010" cy="1299" r="5"/></g>
<g id="c49"><circle class="tl" cx="951" cy="1316" r="5"/></g>
<g id="O1"><circle class="or" cx="759" cy="963" r="7.5"/></g>
<g id="d1"><circle class="pu" cx="687" cy="983" r="5"/></g>
<g id="d2"><circle class="mi" cx="748" cy="1019" r="5.5"/></g>
<g id="d3"><circle class="db" cx="704" cy="1033" r="5"/></g>
<g id="d4"><circle class="db" cx="745" cy="1060" r="5"/></g>
<g id="d5"><circle class="pu" cx="676" cy="1072" r="5"/></g>
<g id="d6"><circle class="lb" cx="663" cy="1109" r="5"/></g>
<g id="d7"><circle class="or" cx="609" cy="1124" r="5"/></g>
<g id="d8"><circle class="tl" cx="616" cy="1167" r="5"/></g>
<g id="d9"><circle class="gr" cx="657" cy="1184" r="5"/></g>
<g id="d10"><circle class="db" cx="562" cy="1190" r="5"/></g>
<g id="d11"><circle class="lb" cx="513" cy="1246" r="5"/></g>
<g id="d12"><circle class="lb" cx="545" cy="1262" r="5"/></g>
<g id="d13"><circle class="tl" cx="480" cy="1303" r="5"/></g>
<g id="d14"><circle class="gr" cx="518" cy="1323" r="5"/></g>
<g id="d15"><circle class="pu" cx="654" cy="1031" r="5"/></g>
<g id="d16"><circle class="or" cx="569" cy="1049" r="5"/></g>
<g id="d17"><circle class="db" cx="494" cy="1033" r="5"/></g>
<g id="d18"><circle class="lb" cx="420" cy="1020" r="5"/></g>
<g id="d19"><circle class="gr" cx="365" cy="974" r="5"/></g>
<g id="d20"><circle class="tl" cx="353" cy="1043" r="5"/></g>
<g id="d21"><circle class="db" cx="506" cy="1095" r="5"/></g>
<g id="d22"><circle class="lb" cx="442" cy="1136" r="5"/></g>
<g id="d23"><circle class="gr" cx="370" cy="1142" r="5"/></g>
<g id="d24"><circle class="tl" cx="404" cy="1197" r="5"/></g>
<g id="d25"><circle class="lb" cx="724" cy="1140" r="5"/></g>
<g id="d26"><circle class="lb" cx="754" cy="1139" r="5"/></g>
<g id="d27"><circle class="lb" cx="794" cy="1163" r="5"/></g>
<g id="d28"><circle class="tl" cx="730" cy="1207" r="5"/></g>
<g id="d29"><circle class="gr" cx="760" cy="1214" r="5.5"/></g>
<g id="d30"><circle class="lb" cx="824" cy="1216" r="5"/></g>
<g id="d31"><circle class="lb" cx="842" cy="1229" r="5"/></g>
<g id="d32"><circle class="tl" cx="810" cy="1291" r="5"/></g>
<g id="e1"><circle class="pu" cx="128" cy="824" r="5"/></g>
<g id="e2"><circle class="mi" cx="186" cy="859" r="5"/></g>
<g id="e3"><circle class="pu" cx="115" cy="882" r="5"/></g>
<g id="e4"><circle class="or" cx="157" cy="893" r="5"/></g>
<g id="e5"><circle class="or" cx="95" cy="951" r="5"/></g>
<g id="e6"><circle class="db" cx="165" cy="965" r="5"/></g>
<g id="e7"><circle class="lb" cx="208" cy="1023" r="5"/></g>
<g id="e8"><circle class="lb" cx="172" cy="1037" r="5"/></g>
<g id="e9"><circle class="tl" cx="232" cy="1084" r="5"/></g>
<g id="e10"><circle class="gr" cx="194" cy="1099" r="5"/></g>
</g>
</svg>
